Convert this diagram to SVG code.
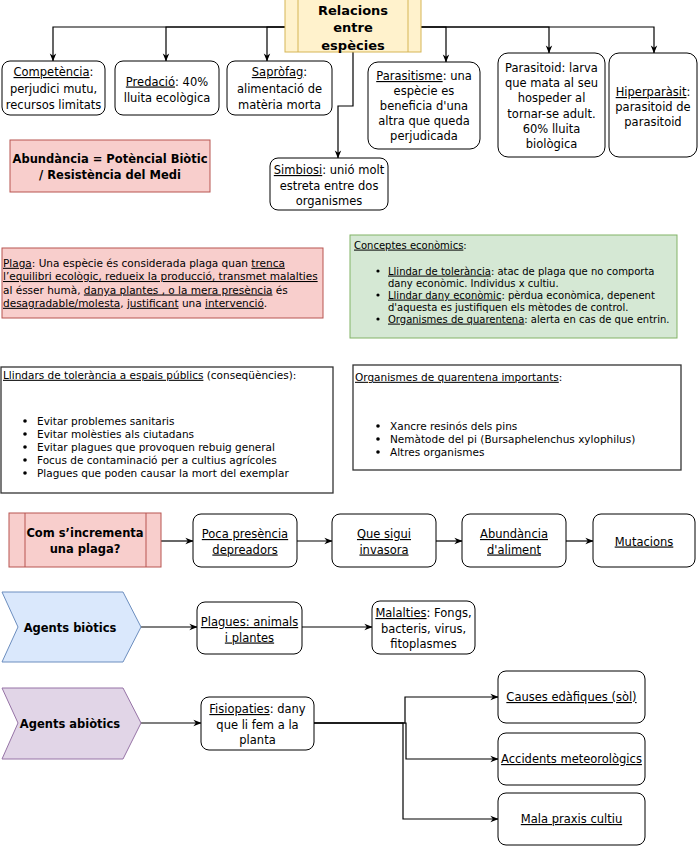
<svg xmlns="http://www.w3.org/2000/svg" width="699" height="848" viewBox="0 0 699 848">
<defs>
<style>
text{font-family:"DejaVu Sans","Liberation Sans",sans-serif;fill:#000}
.n{font-size:11.5px;text-anchor:middle}
.b{font-weight:bold}
.s{font-size:10.5px}
.s10{font-size:10px}
.u{text-decoration:underline}
.box{fill:#fff;stroke:#000;stroke-width:1}
.sq{fill:#fff;stroke:#333;stroke-width:1.3}
.red{fill:#f8cecc;stroke:#b85450;stroke-width:1}
.grn{fill:#d5e8d4;stroke:#82b366;stroke-width:1}
.yel{fill:#fff2cc;stroke:#d6b656;stroke-width:1}
.blu{fill:#dae8fc;stroke:#6c8ebf;stroke-width:1}
.pur{fill:#e1d5e7;stroke:#9673a6;stroke-width:1}
.ln{fill:none;stroke:#000;stroke-width:1}
.edge{fill:none;stroke:#000;stroke-width:1.2;marker-end:url(#arr)}
</style>
<marker id="arr" viewBox="0 0 10 10" refX="9.5" refY="5" markerWidth="8" markerHeight="8" orient="auto" markerUnits="userSpaceOnUse">
<path d="M0,1 L10,5 L0,9 L3,5 z" fill="#000"/>
</marker>
</defs>

<g id="connectors">
<path class="edge" d="M285,27 H53 V61"/>
<path class="edge" d="M285,27 H166 V61"/>
<path class="edge" d="M285,27 H267 V61"/>
<path class="edge" d="M353,52 V106 H338 V158"/>
<path class="edge" d="M421,27 H446 V62"/>
<path class="edge" d="M421,27 H549 V53"/>
<path class="edge" d="M421,27 H654 V53"/>
<path class="edge" d="M161,541 H193"/>
<path class="edge" d="M297,541 H332"/>
<path class="edge" d="M436,541 H462"/>
<path class="edge" d="M566,541 H593"/>
<path class="edge" d="M141,627 H197"/>
<path class="edge" d="M302,627 H372"/>
<path class="edge" d="M141,723 H201"/>
<path class="edge" d="M314,723 H405 V697 H498"/>
<path class="edge" d="M314,723 H406 V759 H498"/>
<path class="edge" d="M314,723 H403 V819 H498"/>
</g>

<g id="title">
<rect class="yel" x="285" y="-1" width="136" height="53"/>
<line class="ln" x1="298" y1="-1" x2="298" y2="52" style="stroke:#d6b656"/>
<line class="ln" x1="408" y1="-1" x2="408" y2="52" style="stroke:#d6b656"/>
<text class="b" style="font-size:13px;text-anchor:middle"><tspan x="353" y="14.6">Relacions</tspan><tspan x="353" y="32">entre</tspan><tspan x="353" y="49.5">espècies</tspan></text>
</g>

<g id="competencia">
<rect class="box" x="2" y="61" width="103" height="54" rx="8"/>
<text class="n"><tspan x="53.5" y="76"><tspan class="u">Competència</tspan>:</tspan><tspan x="53.5" y="92.5">perjudici mutu,</tspan><tspan x="53.5" y="109">recursos limitats</tspan></text>
</g>

<g id="predacio">
<rect class="box" x="115" y="61" width="104" height="54" rx="8"/>
<text class="n"><tspan x="167" y="85.5"><tspan class="u">Predació</tspan>: 40%</tspan><tspan x="167" y="102">lluita ecològica</tspan></text>
</g>

<g id="saprofag">
<rect class="box" x="227" y="61" width="105" height="54" rx="8"/>
<text class="n"><tspan x="279.5" y="76"><tspan class="u">Sapròfag</tspan>:</tspan><tspan x="279.5" y="92.5">alimentació de</tspan><tspan x="279.5" y="109">matèria morta</tspan></text>
</g>

<g id="parasitisme">
<rect class="box" x="368" y="62" width="112" height="87" rx="10"/>
<text class="n"><tspan x="424" y="80"><tspan class="u">Parasitisme</tspan>: una</tspan><tspan x="424" y="95">espècie es</tspan><tspan x="424" y="110">beneficia d'una</tspan><tspan x="424" y="125">altra que queda</tspan><tspan x="424" y="140">perjudicada</tspan></text>
</g>

<g id="parasitoid">
<rect class="box" x="498" y="53" width="107" height="104" rx="10"/>
<text class="n"><tspan x="551.5" y="72">Parasitoid: larva</tspan><tspan x="551.5" y="87.2">que mata al seu</tspan><tspan x="551.5" y="102.4">hospeder al</tspan><tspan x="551.5" y="117.6">tornar-se adult.</tspan><tspan x="551.5" y="132.8">60% lluita</tspan><tspan x="551.5" y="148">biològica</tspan></text>
</g>

<g id="hiperparasit">
<rect class="box" x="609" y="53" width="88" height="104" rx="10"/>
<text class="n"><tspan x="653" y="96"><tspan class="u">Hiperparàsit</tspan>:</tspan><tspan x="653" y="111">parasitoid de</tspan><tspan x="653" y="126">parasitoid</tspan></text>
</g>

<g id="simbiosi">
<rect class="box" x="270" y="158" width="118" height="52" rx="8"/>
<text class="n"><tspan x="329" y="174"><tspan class="u">Simbiosi</tspan>: unió molt</tspan><tspan x="329" y="189.5">estreta entre dos</tspan><tspan x="329" y="205">organismes</tspan></text>
</g>

<g id="abundancia">
<rect class="red" x="10" y="140" width="200" height="52"/>
<text class="n b"><tspan x="110" y="163">Abundància = Potèncial Biòtic</tspan><tspan x="110" y="179">/ Resistència del Medi</tspan></text>
</g>

<g id="plaga">
<rect class="red" x="2" y="248" width="321" height="70"/>
<text class="s"><tspan x="3" y="266.8"><tspan class="u">Plaga</tspan>: Una espècie és considerada plaga quan <tspan class="u">trenca</tspan></tspan><tspan x="3" y="280" class="u">l’equilibri ecològic, redueix la producció, transmet malalties</tspan><tspan x="3" y="293.5">al ésser humà, <tspan class="u">danya plantes , o la mera presència</tspan> és</tspan><tspan x="3" y="306.8"><tspan class="u">desagradable/molesta</tspan>, <tspan class="u">justificant</tspan> una <tspan class="u">intervenció</tspan>.</tspan></text>
</g>

<g id="conceptes">
<rect class="grn" x="350" y="235" width="327" height="103"/>
<text class="s10"><tspan x="354" y="248.6"><tspan class="u">Conceptes econòmics</tspan>:</tspan><tspan x="388" y="274.6"><tspan class="u">Llindar de tolerància</tspan>: atac de plaga que no comporta</tspan><tspan x="388" y="286.6">dany econòmic. Individus x cultiu.</tspan><tspan x="388" y="298.6"><tspan class="u">Llindar dany econòmic</tspan>: pèrdua econòmica, depenent</tspan><tspan x="388" y="310.6">d'aquesta es justifiquen els mètodes de control.</tspan><tspan x="388" y="322.6"><tspan class="u">Organismes de quarentena</tspan>: alerta en cas de que entrin.</tspan></text>
<circle cx="378" cy="271" r="1.6"/>
<circle cx="378" cy="295" r="1.6"/>
<circle cx="378" cy="319" r="1.6"/>
</g>

<g id="llindars">
<rect class="sq" x="1" y="367" width="332" height="126"/>
<text class="s"><tspan x="3" y="378.8"><tspan class="u">Llindars de tolerància a espais públics</tspan> (conseqüències):</tspan><tspan x="37" y="424.8">Evitar problemes sanitaris</tspan><tspan x="37" y="437.8">Evitar molèsties als ciutadans</tspan><tspan x="37" y="450.8">Evitar plagues que provoquen rebuig general</tspan><tspan x="37" y="463.8">Focus de contaminació per a cultius agrícoles</tspan><tspan x="37" y="476.8">Plagues que poden causar la mort del exemplar</tspan></text>
<circle cx="25" cy="421" r="1.8"/>
<circle cx="25" cy="434" r="1.8"/>
<circle cx="25" cy="447" r="1.8"/>
<circle cx="25" cy="460" r="1.8"/>
<circle cx="25" cy="473" r="1.8"/>
</g>

<g id="quarentena">
<rect class="sq" x="353" y="365" width="328" height="105"/>
<text class="s"><tspan x="355" y="380.8"><tspan class="u">Organismes de quarentena importants</tspan>:</tspan><tspan x="390" y="429.8">Xancre resinós dels pins</tspan><tspan x="390" y="442.8">Nemàtode del pi (Bursaphelenchus xylophilus)</tspan><tspan x="390" y="455.8">Altres organismes</tspan></text>
<circle cx="378" cy="426" r="1.8"/>
<circle cx="378" cy="439" r="1.8"/>
<circle cx="378" cy="452" r="1.8"/>
</g>

<g id="com">
<rect class="red" x="9" y="513" width="152" height="54"/>
<line class="ln" x1="25" y1="513" x2="25" y2="567" style="stroke:#b85450"/>
<line class="ln" x1="146" y1="513" x2="146" y2="567" style="stroke:#b85450"/>
<text class="n b"><tspan x="85" y="537">Com s’incrementa</tspan><tspan x="85" y="553">una plaga?</tspan></text>
</g>

<g id="poca">
<rect class="box" x="193" y="514" width="104" height="53" rx="8"/>
<text class="n u"><tspan x="245" y="538">Poca presència</tspan><tspan x="245" y="553.5">depreadors</tspan></text>
</g>

<g id="invasora">
<rect class="box" x="332" y="514" width="104" height="53" rx="8"/>
<text class="n u"><tspan x="384" y="538">Que sigui</tspan><tspan x="384" y="553.5">invasora</tspan></text>
</g>

<g id="aliment">
<rect class="box" x="462" y="514" width="104" height="53" rx="8"/>
<text class="n u"><tspan x="514" y="538">Abundància</tspan><tspan x="514" y="553.5">d'aliment</tspan></text>
</g>

<g id="mutacions">
<rect class="box" x="593" y="514" width="102" height="53" rx="8"/>
<text class="n u" x="644" y="545.5">Mutacions</text>
</g>

<g id="biotics">
<polygon class="blu" points="2,592 123,592 141,627 123,662 2,662 18,627"/>
<text class="n b" x="70" y="631.5">Agents biòtics</text>
</g>

<g id="plagues">
<rect class="box" x="197" y="602" width="105" height="52" rx="8"/>
<text class="n u"><tspan x="249.5" y="626">Plagues: animals</tspan><tspan x="249.5" y="641.5">i plantes</tspan></text>
</g>

<g id="malalties">
<rect class="box" x="372" y="601" width="103" height="53" rx="8"/>
<text class="n"><tspan x="423.5" y="617"><tspan class="u">Malalties</tspan>: Fongs,</tspan><tspan x="423.5" y="632.5">bacteris, virus,</tspan><tspan x="423.5" y="648">fitoplasmes</tspan></text>
</g>

<g id="abiotics">
<polygon class="pur" points="2,688 123,688 141,723 123,759 2,759 18,723"/>
<text class="n b" x="70" y="727.5">Agents abiòtics</text>
</g>

<g id="fisiopaties">
<rect class="box" x="201" y="697" width="113" height="53" rx="8"/>
<text class="n"><tspan x="257.5" y="713"><tspan class="u">Fisiopaties</tspan>: dany</tspan><tspan x="257.5" y="728.5">que li fem a la</tspan><tspan x="257.5" y="744">planta</tspan></text>
</g>

<g id="causes">
<rect class="box" x="498" y="671" width="147" height="52" rx="8"/>
<text class="n u" x="571.5" y="701">Causes edàfiques (sòl)</text>
</g>

<g id="accidents">
<rect class="box" x="498" y="733" width="147" height="52" rx="8"/>
<text class="n u" x="571.5" y="763">Accidents meteorològics</text>
</g>

<g id="mala">
<rect class="box" x="498" y="793" width="147" height="52" rx="8"/>
<text class="n u" x="571.5" y="823">Mala praxis cultiu</text>
</g>
</svg>
